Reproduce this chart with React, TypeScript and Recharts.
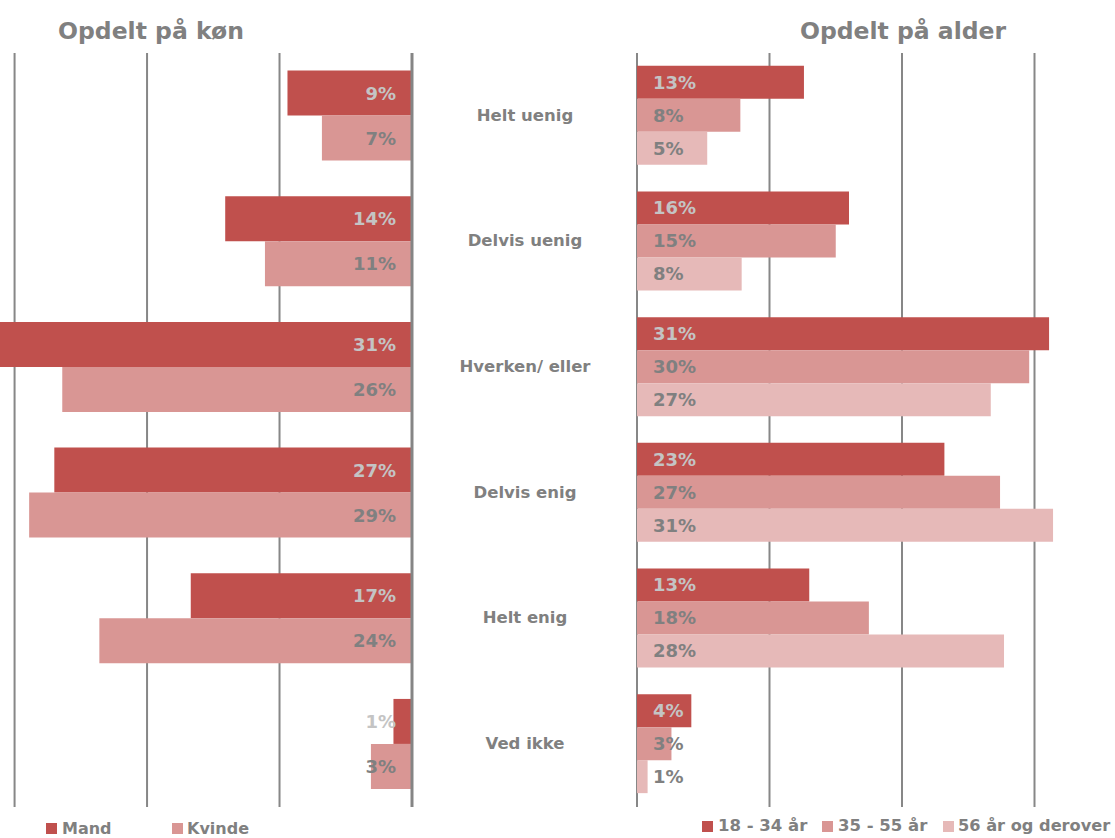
import React from "react";
import { BarChart, Bar, XAxis, YAxis, CartesianGrid, LabelList } from "recharts";

// ---- data ----
const categories = ["Helt uenig", "Delvis uenig", "Hverken/ eller", "Delvis enig", "Helt enig", "Ved ikke"];
const mand = [9.4, 14.1, 31.1, 27.0, 16.7, 1.4];
const kvinde = [6.8, 11.1, 26.4, 28.9, 23.6, 3.1];
const age18to34 = [12.6, 16.0, 31.1, 23.2, 13.0, 4.1];
const age35to55 = [7.8, 15.0, 29.6, 27.4, 17.5, 2.6];
const age56plus = [5.3, 7.9, 26.7, 31.4, 27.7, 0.8];
const genderSeries = ["Mand", "Kvinde"];
const ageSeries = ["18 - 34 år", "35 - 55 år", "56 år og derover"];
const titles = ["Opdelt på køn", "Opdelt på alder"];
const gridTicks = [0, 10, 20, 30];

// ---- styles ----
const FONT = "'DejaVu Sans', Verdana, sans-serif";
const GREY = "#808080";
const LIGHT = "#c4c4c4";
const C1 = "#c0504d";
const C2 = "#d99694";
const C3 = "#e6b9b8";

const genderData = categories.map((cat, i) => ({ cat, mand: mand[i], kvinde: kvinde[i] }));
const ageData = categories.map((cat, i) => ({ cat, a: age18to34[i], b: age35to55[i], c: age56plus[i] }));

const leftLabel = (color: string) => (props: any) => {
  const { x, y, width, height, value } = props;
  const right = Math.max(Number(x), Number(x) + Number(width));
  return (
    <text x={right - 16} y={Number(y) + Number(height) / 2} dy="0.36em" textAnchor="end"
      fontFamily={FONT} fontWeight="bold" fontSize={18} fill={color}>
      {Math.round(Number(value))}%
    </text>
  );
};

const rightLabel = (color: string) => (props: any) => {
  const { x, y, width, height, value } = props;
  const left = Math.min(Number(x), Number(x) + Number(width));
  return (
    <text x={left + 16} y={Number(y) + Number(height) / 2} dy="0.36em" textAnchor="start"
      fontFamily={FONT} fontWeight="bold" fontSize={18} fill={color}>
      {Math.round(Number(value))}%
    </text>
  );
};

const CatTick = (props: any) => {
  const { x, y, payload } = props;
  return (
    <text x={Number(x) + 113} y={Number(y) - 1} dy="0.36em" textAnchor="middle"
      fontFamily={FONT} fontWeight="bold" fontSize={16.5} fill={GREY}>
      {payload.value}
    </text>
  );
};

export default function App() {
  return (
    <div style={{ position: "absolute", left: 0, top: 0, width: 1115, height: 838, background: "#fff", overflow: "hidden" }}>
      <div style={{ position: "absolute", left: 0, top: 0 }}>
        <BarChart layout="vertical" width={637} height={838} data={genderData}
          margin={{ top: 53, right: 0, bottom: 31, left: 0 }} barCategoryGap="14%" barGap={0}>
          <CartesianGrid horizontal={false} stroke="#878787" strokeWidth={2} verticalValues={gridTicks} />
          <XAxis type="number" reversed domain={[0, 31.1]} ticks={gridTicks} hide />
          <YAxis type="category" dataKey="cat" orientation="right" width={225} interval={0}
            axisLine={{ stroke: "#858585", strokeWidth: 3 }} tickLine={false} tickSize={0} tickMargin={0}
            tick={<CatTick />} />
          <Bar dataKey="mand" name={genderSeries[0]} fill={C1} isAnimationActive={false}>
            <LabelList dataKey="mand" content={leftLabel(LIGHT)} />
          </Bar>
          <Bar dataKey="kvinde" name={genderSeries[1]} fill={C2} isAnimationActive={false}>
            <LabelList dataKey="kvinde" content={leftLabel(GREY)} />
          </Bar>
        </BarChart>
      </div>
      <div style={{ position: "absolute", left: 627, top: 0 }}>
        <BarChart layout="vertical" width={488} height={838} data={ageData}
          margin={{ top: 53, right: 1, bottom: 31, left: 10 }} barCategoryGap="10.2%" barGap={0}>
          <CartesianGrid horizontal={false} stroke="#878787" strokeWidth={2} verticalValues={gridTicks} />
          <XAxis type="number" domain={[0, 36]} ticks={gridTicks} hide />
          <YAxis type="category" dataKey="cat" width={0} tick={false} tickLine={false}
            axisLine={{ stroke: "#858585", strokeWidth: 3 }} />
          <Bar dataKey="a" name={ageSeries[0]} fill={C1} isAnimationActive={false}>
            <LabelList dataKey="a" content={rightLabel(LIGHT)} />
          </Bar>
          <Bar dataKey="b" name={ageSeries[1]} fill={C2} isAnimationActive={false}>
            <LabelList dataKey="b" content={rightLabel(GREY)} />
          </Bar>
          <Bar dataKey="c" name={ageSeries[2]} fill={C3} isAnimationActive={false}>
            <LabelList dataKey="c" content={rightLabel(GREY)} />
          </Bar>
        </BarChart>
      </div>
      <svg style={{ position: "absolute", left: 0, top: 0 }} width={1115} height={838} pointerEvents="none">
        <text x={151} y={39} textAnchor="middle" fontFamily={FONT} fontWeight="bold" fontSize={23.5} fill={GREY}>{titles[0]}</text>
        <text x={903} y={39} textAnchor="middle" fontFamily={FONT} fontWeight="bold" fontSize={23.5} fill={GREY}>{titles[1]}</text>
        {/* legends */}
        <rect x={46} y={823} width={11} height={11} fill={C1} />
        <text x={62} y={833.5} fontFamily={FONT} fontWeight="bold" fontSize={16} fill={GREY}>{genderSeries[0]}</text>
        <rect x={172} y={823} width={11} height={11} fill={C2} />
        <text x={187} y={833.5} fontFamily={FONT} fontWeight="bold" fontSize={16} fill={GREY}>{genderSeries[1]}</text>
        <rect x={702} y={821} width={11} height={11} fill={C1} />
        <text x={718} y={831} fontFamily={FONT} fontWeight="bold" fontSize={16.5} fill={GREY}>{ageSeries[0]}</text>
        <rect x={822} y={821} width={11} height={11} fill={C2} />
        <text x={838} y={831} fontFamily={FONT} fontWeight="bold" fontSize={16.5} fill={GREY}>{ageSeries[1]}</text>
        <rect x={943} y={821} width={11} height={11} fill={C3} />
        <text x={958} y={831} fontFamily={FONT} fontWeight="bold" fontSize={16.2} fill={GREY}>{ageSeries[2]}</text>
      </svg>
    </div>
  );
}
